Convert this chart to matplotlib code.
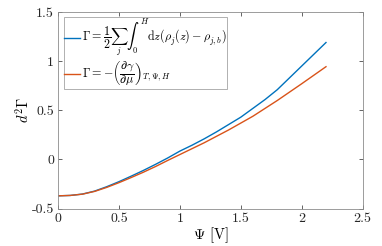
import matplotlib
matplotlib.use('Agg')
import matplotlib.pyplot as plt

plt.rcParams['font.family'] = 'serif'
plt.rcParams['font.serif'] = ['cmr10']
plt.rcParams['mathtext.fontset'] = 'cm'
plt.rcParams['axes.unicode_minus'] = False

# data
psi = [0, 0.1, 0.2, 0.3, 0.4, 0.5, 0.6, 0.7, 0.8, 0.9, 1.0, 1.1,
       1.2, 1.3, 1.4, 1.5, 1.6, 1.7, 1.8, 1.9, 2.0, 2.1, 2.2]
gamma_integral = [-0.37, -0.366, -0.352, -0.322, -0.277, -0.226, -0.17, -0.112,
                  -0.05, 0.015, 0.085, 0.145, 0.21, 0.28, 0.355, 0.43, 0.52,
                  0.61, 0.71, 0.83, 0.95, 1.07, 1.19]
gamma_deriv = [-0.37, -0.366, -0.353, -0.325, -0.284, -0.236, -0.184, -0.13,
               -0.072, -0.01, 0.05, 0.11, 0.17, 0.235, 0.3, 0.37, 0.44,
               0.52, 0.6, 0.685, 0.77, 0.857, 0.944]

xticks = [0, 0.5, 1, 1.5, 2, 2.5]
xtick_labels = ['0', '0.5', '1', '1.5', '2', '2.5']
yticks = [-0.5, 0, 0.5, 1, 1.5]
ytick_labels = ['-0.5', '0', '0.5', '1', '1.5']

label_int = r'$\Gamma = \dfrac{1}{2}\sum_j\int_0^H \mathrm{d}z(\rho_j(z)-\rho_{j,b})$'
label_der = r'$\Gamma = -\left(\dfrac{\partial\gamma}{\partial\mu}\right)_{T,\Psi,H}$'

fig = plt.figure(figsize=(3.82, 2.46), dpi=100)
ax = fig.add_axes([0.152, 0.152, 0.797, 0.799])

ax.plot(psi, gamma_integral, color='#0072BD', lw=1.0, label=label_int)
ax.plot(psi, gamma_deriv, color='#D95319', lw=1.0, label=label_der)

ax.set_xlim(0, 2.5)
ax.set_ylim(-0.5, 1.5)
ax.set_xticks(xticks)
ax.set_xticklabels(xtick_labels)
ax.set_yticks(yticks)
ax.set_yticklabels(ytick_labels)
ax.tick_params(direction='in', length=3, width=0.5, colors='0.15',
               labelsize=10, top=True, right=True, pad=3)
for s in ax.spines.values():
    s.set_color('0.55')
    s.set_linewidth(0.6)

ax.set_xlabel(r'$\Psi$ [V]', fontsize=10.5, labelpad=0)
ax.set_ylabel(r'$d^2\Gamma$', fontsize=10.5, labelpad=0)

leg = ax.legend(loc='upper left', fontsize=8.7, frameon=True, fancybox=False,
                handlelength=1.3, handletextpad=0.15, borderpad=0.05,
                labelspacing=0.0, borderaxespad=0.45)
leg.get_frame().set_edgecolor('0.55')
leg.get_frame().set_linewidth(0.6)

fig.savefig('out.png', dpi=100)
